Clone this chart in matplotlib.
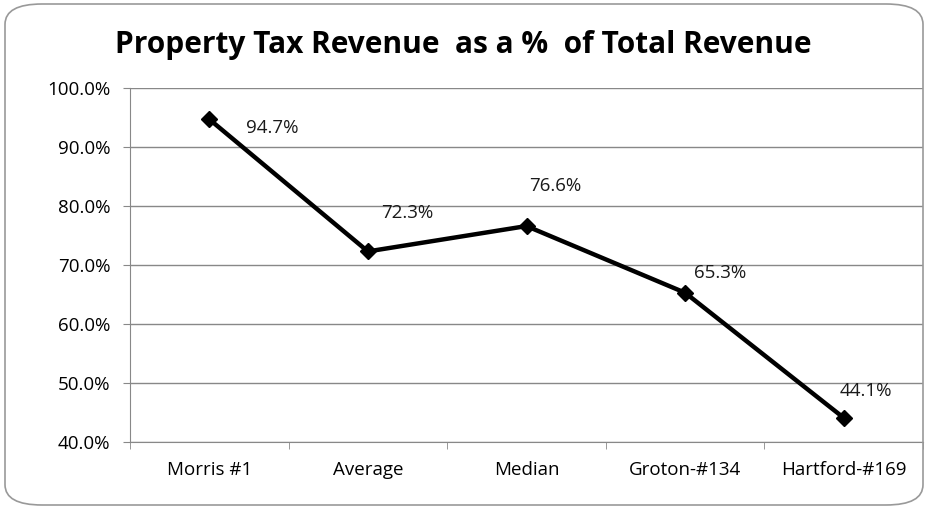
import matplotlib.pyplot as plt
from matplotlib.patches import FancyBboxPatch
from matplotlib.ticker import FuncFormatter

categories = ['Morris #1', 'Average', 'Median', 'Groton-#134', 'Hartford-#169']
values = [94.7, 72.3, 76.6, 65.3, 44.1]
# label offsets in points (dx, dy)
label_offsets = [(45, -6), (28, 28), (21, 29), (25, 14), (16, 19)]

plt.rcParams['font.family'] = ['Open Sans', 'DejaVu Sans']

fig = plt.figure(figsize=(9.26, 5.08), dpi=100)
ax = fig.add_axes([130 / 926, 1 - 442 / 508, 793 / 926, 354 / 508])

# rounded frame round the chart
frame = FancyBboxPatch((5 / 926, 3 / 508), 918 / 926, 501 / 508,
                       boxstyle='round,pad=0,rounding_size=0.04',
                       transform=fig.transFigure, fill=False,
                       edgecolor='#999999', linewidth=1.2)
fig.patches.append(frame)

x = list(range(len(categories)))
ax.plot(x, values, color='black', linewidth=3.2, marker='D', markersize=8,
        markerfacecolor='black', markeredgecolor='black')

for xi, v, off in zip(x, values, label_offsets):
    ax.annotate(f'{v:.1f}%', (xi, v), xytext=off, textcoords='offset points',
                ha='center', va='center', fontsize=13.5, color='#1a1a1a')

ax.set_xlim(-0.5, len(categories) - 0.5)
ax.set_ylim(40, 100)
ax.set_yticks(range(40, 101, 10))
ax.yaxis.set_major_formatter(FuncFormatter(lambda v, p: f'{v:.1f}%'))
ax.set_xticks(x)
ax.set_xticklabels(categories)
ax.set_xticks([i + 0.5 for i in x[:-1]] + [-0.5, len(categories) - 0.5], minor=True)
ax.tick_params(axis='x', which='major', length=0, pad=14, labelsize=13.5)
ax.tick_params(axis='x', which='minor', length=5, color='#888888', direction='out')
ax.tick_params(axis='y', length=5, color='#888888', labelsize=13.5, pad=9)

ax.grid(axis='y', color='#888888', linewidth=1)
ax.set_axisbelow(True)
for side in ['top', 'right']:
    ax.spines[side].set_visible(False)
ax.spines['left'].set_color('#888888')
ax.spines['bottom'].set_color('#888888')

fig.text(0.5, 1 - 45 / 508, 'Property Tax Revenue  as a %  of Total Revenue',
         ha='center', va='center', fontsize=21.5, fontweight='bold')

fig.savefig('out.png', dpi=100)
